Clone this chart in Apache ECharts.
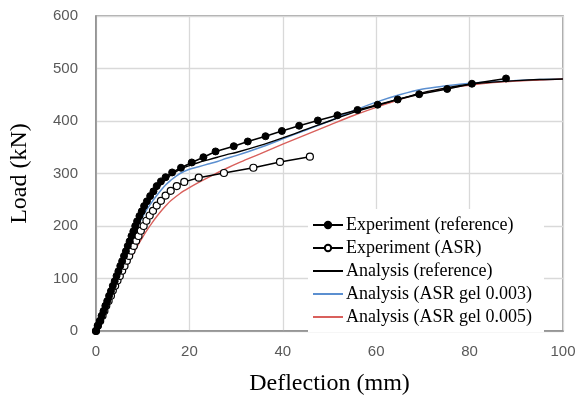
<!DOCTYPE html>
<html>
<head>
<meta charset="utf-8">
<script src="https://cdn.jsdelivr.net/npm/echarts@6/dist/echarts.min.js"></script>
<style>html,body{margin:0;padding:0;background:#fff}#c{width:580px;height:401px}</style>
</head>
<body>
<div id="c"></div>
<script>
// Data: [deflection (mm), load (kN)]
var expReference = [[0,0],[0.4,10],[0.8,19],[1.2,29],[1.6,38],[2.0,48],[2.4,57],[2.8,67],[3.2,76],[3.6,86],[4.0,95],[4.4,105],[4.8,114],[5.2,124],[5.6,133],[6.0,143],[6.4,152],[6.8,162],[7.2,171],[7.6,181],[8.0,190],[8.4,200],[8.8,209],[9.3,219],[9.8,228],[10.3,238],[10.9,247],[11.6,257],[12.3,266],[13.0,276],[13.9,285],[14.9,293],[16.3,302],[18.2,311],[20.5,321],[23.0,331],[25.6,342],[29.5,352],[32.5,361],[36.3,371],[39.8,381],[43.5,391],[47.5,401],[51.7,411],[56.0,421],[60.3,431],[64.6,441],[69.2,451],[75.2,461],[80.5,471],[87.8,481]];
var expASR = [[0,0],[0.4,10],[0.9,19],[1.4,29],[1.8,38],[2.2,48],[2.7,57],[3.2,67],[3.6,77],[4.1,86],[4.6,96],[5.1,105],[5.6,115],[6.1,124],[6.6,134],[7.1,143],[7.6,153],[8.1,162],[8.6,172],[9.1,181],[9.6,191],[10.2,200],[10.8,210],[11.5,220],[12.2,229],[13.0,239],[13.9,248],[14.9,258],[16.0,267],[17.3,276],[18.9,284],[22.0,292],[27.4,301],[33.7,311],[39.4,322],[45.8,332]];
var anaReference = [[0,0],[1,22],[2,45],[3,68],[4,92],[5,115],[6,138],[7,160],[8,182],[9,203],[10,222],[11,240],[12,256],[13,269],[14,280],[15,289],[16,297],[18,308],[20,315],[22,321],[24,326],[26,331],[28,336],[30,340],[35,353],[40,368],[45,384],[50,400],[55,416],[60,429],[65,442],[70,454],[75,463],[80,470],[85,474],[90,477],[95,479],[100,480]];
var anaGel003 = [[0,0],[1,24],[2,48],[3,72],[4,96],[5,119],[6,141],[7,162],[8,182],[9,201],[10,218],[11,233],[12,246],[13,258],[14,269],[15,279],[16,287],[18,300],[20,308],[22,313],[24,318],[26,323],[28,329],[30,334],[35,349],[40,366],[45,383],[50,400],[55,419],[60,436],[65,450],[70,461],[75,467],[80,472],[85,475],[90,477],[95,479],[100,480]];
var anaGel005 = [[0,0],[1,19],[2,38],[3,57],[4,76],[5,95],[6,113],[7,131],[8,148],[9,164],[10,179],[11,193],[12,206],[13,218],[14,229],[15,239],[16,248],[18,262],[20,273],[22,283],[25,297],[28,310],[31,322],[35,337],[40,356],[45,374],[50,392],[55,410],[60,426],[65,441],[70,453],[75,462],[80,468],[85,473],[90,476],[95,478],[100,480]];
var seriesNames = ['Experiment (reference)','Experiment (ASR)','Analysis (reference)','Analysis (ASR gel 0.003)','Analysis (ASR gel 0.005)'];
var xTitle = 'Deflection (mm)';
var yTitle = 'Load (kN)';

var chart = echarts.init(document.getElementById('c'), null, {renderer:'canvas'});
var tickFont = {color:'#595959', fontSize:15, fontFamily:'Liberation Sans, Arial, sans-serif'};
var hiddenSymbol = {color:'rgba(0,0,0,0)', borderColor:'rgba(0,0,0,0)', borderWidth:0};
chart.setOption({
  animation:false,
  backgroundColor:'#fff',
  grid:{left:95, right:17, top:16, bottom:69, show:true, borderColor:'#8c8c8c', borderWidth:1.5, backgroundColor:'transparent'},
  xAxis:{type:'value', min:0, max:100, interval:20,
    name:xTitle, nameLocation:'middle', nameGap:41,
    nameTextStyle:{fontFamily:'Liberation Serif, Times New Roman, serif', fontSize:24, color:'#000'},
    axisLine:{show:true, lineStyle:{color:'#8c8c8c', width:1.5}}, axisTick:{show:false},
    axisLabel:Object.assign({margin:13}, tickFont),
    splitLine:{show:true, lineStyle:{color:'#d9d9d9', width:1.3}}},
  yAxis:{type:'value', min:0, max:600, interval:100,
    name:yTitle, nameLocation:'middle', nameGap:64, nameRotate:90,
    nameTextStyle:{fontFamily:'Liberation Serif, Times New Roman, serif', fontSize:24, color:'#000'},
    axisLine:{show:true, lineStyle:{color:'#8c8c8c', width:1.5}}, axisTick:{show:false},
    axisLabel:Object.assign({margin:18}, tickFont),
    splitLine:{show:true, lineStyle:{color:'#d9d9d9', width:1.3}}},
  legend:{orient:'vertical', left:308, top:209, padding:[7,12,6,4], itemGap:5, itemWidth:30, itemHeight:8,
    backgroundColor:'#fff',
    data:[
      {name:seriesNames[0]},
      {name:seriesNames[1]},
      {name:seriesNames[2], itemStyle:hiddenSymbol},
      {name:seriesNames[3], itemStyle:hiddenSymbol},
      {name:seriesNames[4], itemStyle:hiddenSymbol}
    ],
    textStyle:{fontFamily:'Liberation Serif, Times New Roman, serif', fontSize:18, color:'#000', padding:[0,0,0,-2]}},
  series:[
    {name:seriesNames[0], type:'line', data:expReference, z:5, symbol:'circle', symbolSize:7,
      lineStyle:{color:'#000', width:1.5}, itemStyle:{color:'#000', borderColor:'#000', borderWidth:1}},
    {name:seriesNames[1], type:'line', data:expASR, z:4, symbol:'circle', symbolSize:7,
      lineStyle:{color:'#000', width:1.5}, itemStyle:{color:'#fff', borderColor:'#000', borderWidth:1.2}},
    {name:seriesNames[2], type:'line', data:anaReference, z:3, symbol:'none', smooth:0.3,
      lineStyle:{color:'#000', width:1.4}, itemStyle:{color:'#000'}},
    {name:seriesNames[3], type:'line', data:anaGel003, z:2, symbol:'none', smooth:0.3,
      lineStyle:{color:'#5b8fd0', width:1.5}, itemStyle:{color:'#5b8fd0'}},
    {name:seriesNames[4], type:'line', data:anaGel005, z:2, symbol:'none', smooth:0.3,
      lineStyle:{color:'#d9605c', width:1.4}, itemStyle:{color:'#d9605c'}}
  ]
});
</script>
</body>
</html>
